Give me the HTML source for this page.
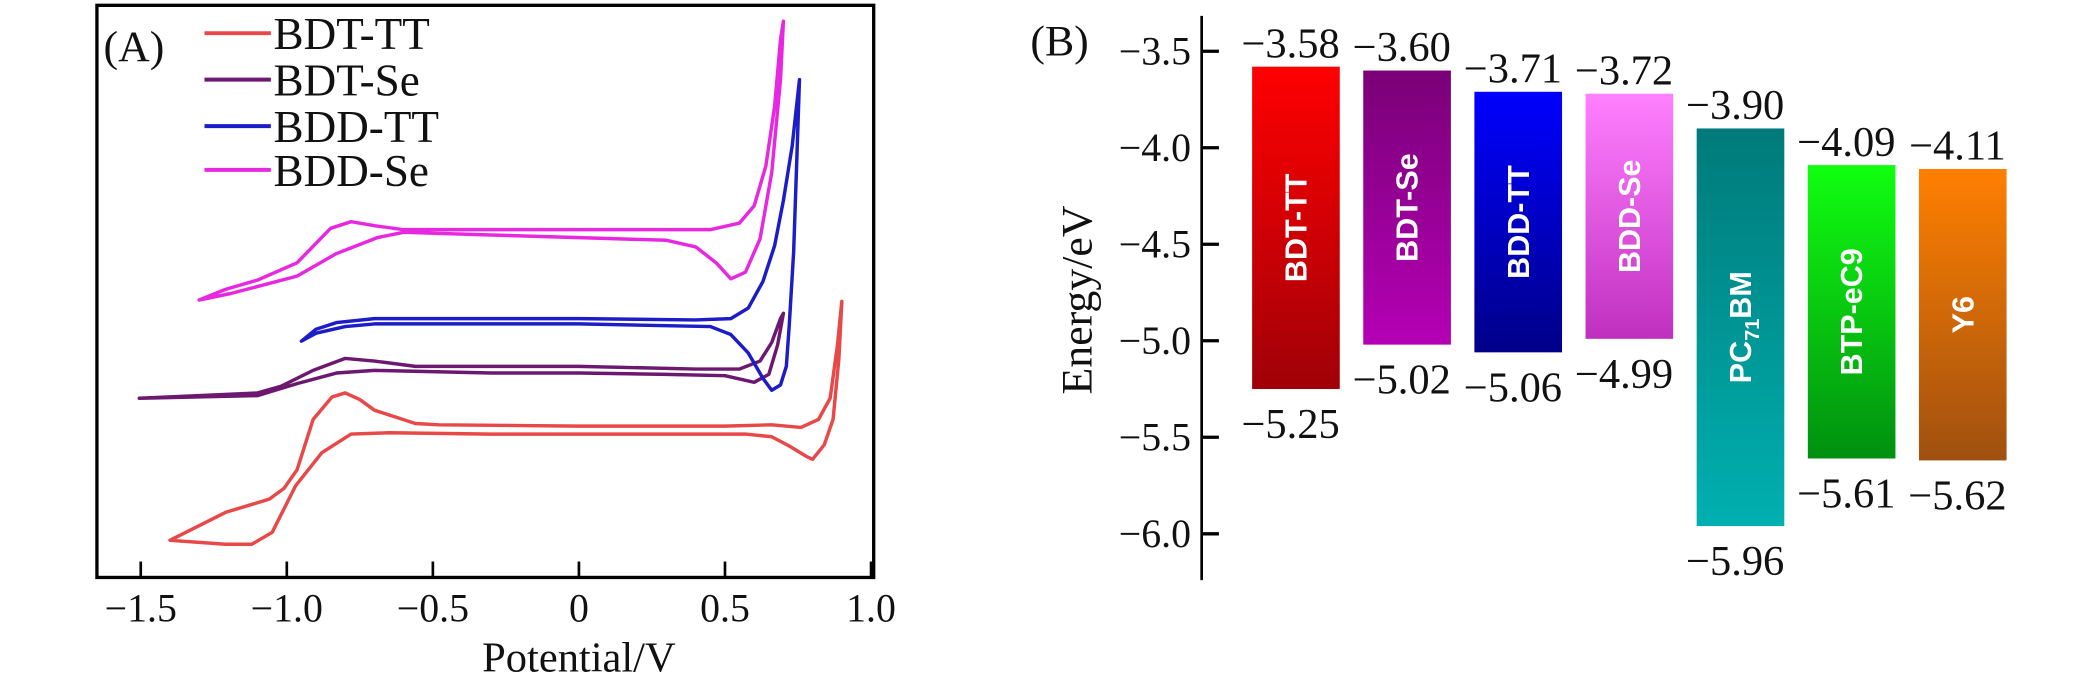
<!DOCTYPE html>
<html><head><meta charset="utf-8"><style>
html,body{margin:0;padding:0;background:#fff;}
svg{display:block;}
text{font-family:"Liberation Serif",serif;fill:#111;}
.bt{font-family:"Liberation Sans",sans-serif;font-weight:bold;fill:#fff;}
</style></head><body>
<svg id="chart" width="2082" height="681" viewBox="0 0 1568 513" preserveAspectRatio="none" xmlns="http://www.w3.org/2000/svg">
<defs>
<linearGradient id="g0" x1="0" y1="0" x2="0" y2="1"><stop offset="0" stop-color="#ff0000"/><stop offset="1" stop-color="#a00008"/></linearGradient>
<linearGradient id="g1" x1="0" y1="0" x2="0" y2="1"><stop offset="0" stop-color="#7a0078"/><stop offset="1" stop-color="#b400b4"/></linearGradient>
<linearGradient id="g2" x1="0" y1="0" x2="0" y2="1"><stop offset="0" stop-color="#0000ff"/><stop offset="1" stop-color="#000088"/></linearGradient>
<linearGradient id="g3" x1="0" y1="0" x2="0" y2="1"><stop offset="0" stop-color="#ff80ff"/><stop offset="1" stop-color="#c030c0"/></linearGradient>
<linearGradient id="g4" x1="0" y1="0" x2="0" y2="1"><stop offset="0" stop-color="#007a7a"/><stop offset="1" stop-color="#00b0b0"/></linearGradient>
<linearGradient id="g5" x1="0" y1="0" x2="0" y2="1"><stop offset="0" stop-color="#10ff10"/><stop offset="1" stop-color="#009010"/></linearGradient>
<linearGradient id="g6" x1="0" y1="0" x2="0" y2="1"><stop offset="0" stop-color="#ff8000"/><stop offset="1" stop-color="#a05010"/></linearGradient>
</defs>
<g id="panelA">
<rect x="73" y="4" width="585" height="431" fill="none" stroke="#000" stroke-width="2.5"/>
<text x="78" y="46" font-size="33">(A)</text>
<text x="436" y="506" font-size="32" text-anchor="middle">Potential/V</text>
<g id="axA"></g>
<g id="curves"></g>
<g id="legend"></g>
</g>
<g id="panelB">
<text x="776" y="42" font-size="33">(B)</text>
<text transform="translate(822,226) rotate(-90)" font-size="33" text-anchor="middle">Energy/eV</text>
<line x1="905" y1="12" x2="905" y2="437" stroke="#000" stroke-width="2"/>
<g id="axB"></g>
<g id="bars"></g>
</g>
</svg>
<script>
const NS='http://www.w3.org/2000/svg';
// Panel A data
const xTicks=[-1.5,-1.0,-0.5,0,0.5,1.0];
const xTickLabels=['\u22121.5','\u22121.0','\u22120.5','0','0.5','1.0'];
const seriesNames=['BDT-TT','BDT-Se','BDD-TT','BDD-Se'];
const seriesColors=['#e84848','#6c1870','#1c1cc8','#e828e0'];
const redV=[0,0.3,0.57,0.66,0.72,0.78,0.80,0.84,0.87,0.89,0.90,0.885,0.86,0.82,0.76,0.66,0.5,0,-0.48,-0.56,-0.70,-0.75,-0.80,-0.845,-0.91,-0.965,-1.01,-1.06,-1.21,-1.40,-1.21,-1.12,-1.05,-0.97,-0.88,-0.78,-0.65,-0.3,0];
const redI=[108,108,108,106,99,91,89,100,119,165,208,175,135,119,113,115,114,114,115,116,126,134,139,136,119,81,67,59,49,28,25,25,34,69,94,108,109,108,108];
const purV=[0,-0.3,-0.56,-0.70,-0.80,-0.91,-1.02,-1.10,-1.3,-1.505,-1.3,-1.1,-0.965,-0.83,-0.7,-0.3,0,0.3,0.5,0.6,0.65,0.68,0.70,0.69,0.66,0.62,0.55,0.4,0];
const purI=[159,159,159,163,165,156,144,139,137,135,136,137,146,154,156,154,154,153,152,147,153,175,199,195,177,163,157,157,159];
const bluV=[0,-0.5,-0.7,-0.83,-0.9,-0.95,-0.9,-0.8,-0.7,-0.5,0,0.45,0.52,0.58,0.63,0.66,0.69,0.71,0.72,0.735,0.745,0.755,0.745,0.73,0.70,0.67,0.63,0.58,0.52,0.4,0];
const bluI=[195,195,195,192,187,178,184,189,191,191,191,189,183,169,150,141,145,159,190,245,309,375,355,325,284,250,223,203,195,194,195];
const magV=[0,-0.3,-0.6,-0.70,-0.78,-0.85,-0.965,-1.10,-1.21,-1.30,-1.19,-0.965,-0.83,-0.69,-0.6,-0.3,0,0.3,0.4,0.47,0.52,0.57,0.62,0.66,0.69,0.70,0.69,0.67,0.64,0.60,0.55,0.45,0];
const magI=[262,262,262,265,268,263,237,224,217,209,214,227,244,256,260,258,256,254,249,237,225,230,255,305,375,419,405,355,310,280,267,262,262];
// Panel B data
const materials=['BDT-TT','BDT-Se','BDD-TT','BDD-Se','PC71BM','BTP-eC9','Y6'];
const lumo=[-3.58,-3.60,-3.71,-3.72,-3.90,-4.09,-4.11];
const homo=[-5.25,-5.02,-5.06,-4.99,-5.96,-5.61,-5.62];
const yTicks=[-3.5,-4.0,-4.5,-5.0,-5.5,-6.0];
const yTickLabels=['\u22123.5','\u22124.0','\u22124.5','\u22125.0','\u22125.5','\u22126.0'];

const xA=v=>436+220*v;
const yA=i=>435-i;
const yB=e=>38.6+(-3.5-e)*145.4;
const fmt=v=>'\u2212'+Math.abs(v).toFixed(2);
function mk(tag,attrs,parent,txt){const e=document.createElementNS(NS,tag);for(const k in attrs)e.setAttribute(k,attrs[k]);if(txt!==undefined)e.textContent=txt;parent.appendChild(e);return e;}

const axA=document.getElementById('axA');
xTicks.forEach((t,k)=>{
  const l=mk('line',{x1:xA(t),x2:xA(t),y1:423,y2:435,stroke:'#000','stroke-width':2},axA);
  
  
  const tx=mk('text',{x:xA(t),y:468,'font-size':30,'text-anchor':'middle'},axA,xTickLabels[k]);
  
  
});
const curves=document.getElementById('curves');
const allV=[redV,purV,bluV,magV], allI=[redI,purI,bluI,magI];
allV.forEach((V,s)=>{
  const pts=V.map((v,k)=>xA(v).toFixed(1)+','+yA(allI[s][k]).toFixed(1)).join(' ');
  const p=mk('polyline',{points:pts,fill:'none',stroke:seriesColors[s],'stroke-width':2.6,'stroke-linejoin':'round','stroke-linecap':'round'},curves);
  
  
});
const legend=document.getElementById('legend');
const legY=[25,60,95,128];
seriesNames.forEach((n,s)=>{
  const l=mk('line',{x1:154,x2:204,y1:legY[s],y2:legY[s],stroke:seriesColors[s],'stroke-width':3},legend);
  
  
  const t=mk('text',{x:206,y:legY[s]+12,'font-size':34},legend,n);
  
  
});

const axB=document.getElementById('axB');
yTicks.forEach((t,k)=>{
  const l=mk('line',{x1:905,x2:918,y1:yB(t),y2:yB(t),stroke:'#000','stroke-width':2.5},axB);
  
  
  const tx=mk('text',{x:897,y:yB(t)+10,'font-size':30,'text-anchor':'end'},axB,yTickLabels[k]);
  
  
});
const bars=document.getElementById('bars');
materials.forEach((m,k)=>{
  const x=943+k*83.7, w=66, cx=x+w/2;
  const top=yB(lumo[k]), bot=yB(homo[k]);
  const r=mk('rect',{x:x,y:top,width:w,height:bot-top,fill:'url(#g'+k+')'},bars);
  
  
  const t1=mk('text',{x:cx-4,y:top-7,'font-size':32,'text-anchor':'middle'},bars,fmt(lumo[k]));
  
  
  const t2=mk('text',{x:cx-4,y:bot+37,'font-size':32,'text-anchor':'middle'},bars,fmt(homo[k]));
  
  
  const my=(top+bot)/2;
  const bt=mk('text',{class:'bt',transform:'translate('+(cx+8)+','+my+') rotate(-90)','font-size':23,'text-anchor':'middle'},bars);
  
  
  if(m==='PC71BM'){
    bt.appendChild(document.createTextNode('PC'));
    const sub=document.createElementNS(NS,'tspan');sub.setAttribute('font-size','15');sub.setAttribute('dy','6');sub.textContent='71';bt.appendChild(sub);
    const rest=document.createElementNS(NS,'tspan');rest.setAttribute('dy','-6');rest.textContent='BM';bt.appendChild(rest);
  } else bt.textContent=m;
});
</script>
</body></html>
